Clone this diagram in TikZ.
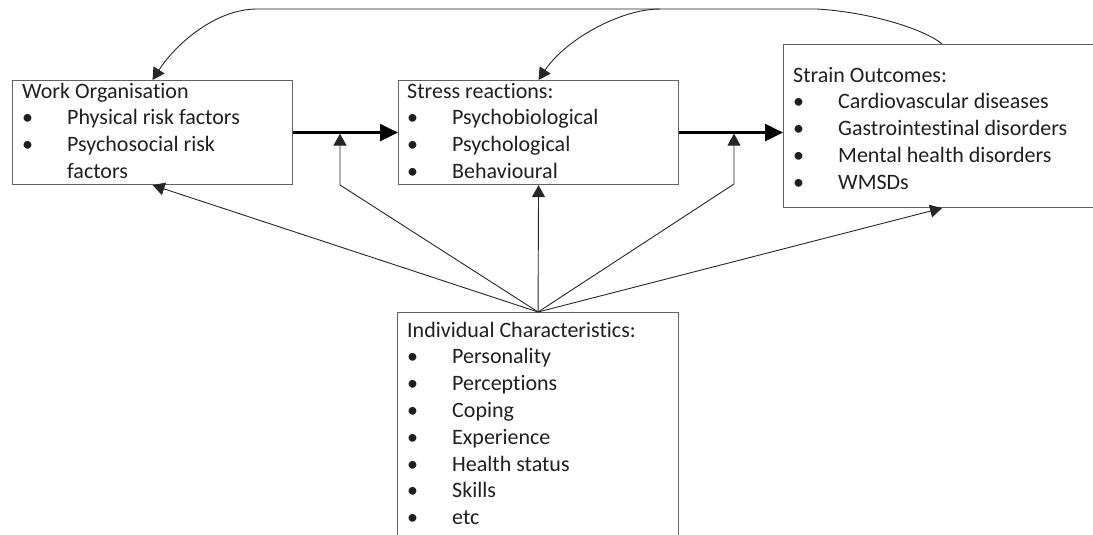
\documentclass[tikz,border=0pt]{standalone}
\usepackage{fontspec}
\setmainfont[Ligatures=NoCommon]{Carlito}
\usetikzlibrary{arrows.meta}
\newcommand\bul{\makebox[45pt][l]{•}}
\begin{document}
\begin{tikzpicture}[x=1pt,y=-1pt,
  box/.style={draw=black!62, line width=1.1pt, rectangle, inner sep=0pt, anchor=north west},
  txt/.style={anchor=base west, align=left, inner sep=0pt, font=\fontsize{22}{26.8}\selectfont, text=black!88},
  thinarrow/.style={draw=black!85, line width=0.9pt, -{Triangle[length=12pt,width=13pt]}},
  thickarrow/.style={draw=black, line width=2.6pt, -{Triangle[length=18pt,width=17pt]}}]
\useasboundingbox (0,0) rectangle (1093,535);
% boxes
\node[box, minimum width=280pt, minimum height=104pt] (work) at (12,80) {};
\node[box, minimum width=280pt, minimum height=104pt] (stress) at (398,80) {};
\node[box, minimum width=317pt, minimum height=163pt] (strain) at (783,44) {};
\node[box, minimum width=281pt, minimum height=240pt] (indiv) at (397,312) {};
% texts (anchored at the baseline of their last line)
\node[txt] (workT) at ([shift={(10,98.4)}]work.north west)
  {Work Organisation\\ \bul Physical risk factors\\ \bul Psychosocial risk\\ \hspace*{45pt}factors};
\node[txt] (stressT) at ([shift={(9,98.4)}]stress.north west)
  {Stress reactions:\\ \bul Psychobiological\\ \bul Psychological\\ \bul Behavioural};
\node[txt] (strainT) at ([shift={(10,145.2)}]strain.north west)
  {Strain Outcomes:\\ \bul Cardiovascular diseases\\ \bul Gastrointestinal disorders\\ \bul Mental health disorders\\ \bul WMSDs};
\node[txt] (indivT) at ([shift={(10,212.6)}]indiv.north west)
  {Individual Characteristics:\\ \bul Personality\\ \bul Perceptions\\ \bul Coping\\ \bul Experience\\ \bul Health status\\ \bul Skills\\ \bul etc};
% coordinates
\coordinate (m1) at (340,133.6);
\coordinate (k1) at (340,185);
\coordinate (m2) at (734,133.6);
\coordinate (k2) at (734,184);
\coordinate (f1) at (817,9);
\coordinate (f2) at (257,9);
\coordinate (f3) at (660,9);
% main arrows
\draw[thickarrow] (work.east) -- (stress.west);
\draw[thickarrow] (stress.east) -- (stress.east -| strain.west);
% moderating arrows
\draw[thinarrow] (indiv.north) -- (k1) -- (m1);
\draw[thinarrow] (indiv.north) -- (k2) -- (m2);
\draw[thinarrow] (indiv.north) -- (work.south);
\draw[thinarrow] (indiv.north) -- (stress.south);
\draw[thinarrow] (indiv.north) -- (strain.south);
% feedback
\draw[thinarrow] (strain.north) .. controls (930,33) and (880,13) .. (f1) -- (f2) .. controls (215,9) and (175,45) .. (work.north);
\draw[thinarrow] (f3) .. controls (620,9) and (565,40) .. (stress.north);
\end{tikzpicture}
\end{document}
